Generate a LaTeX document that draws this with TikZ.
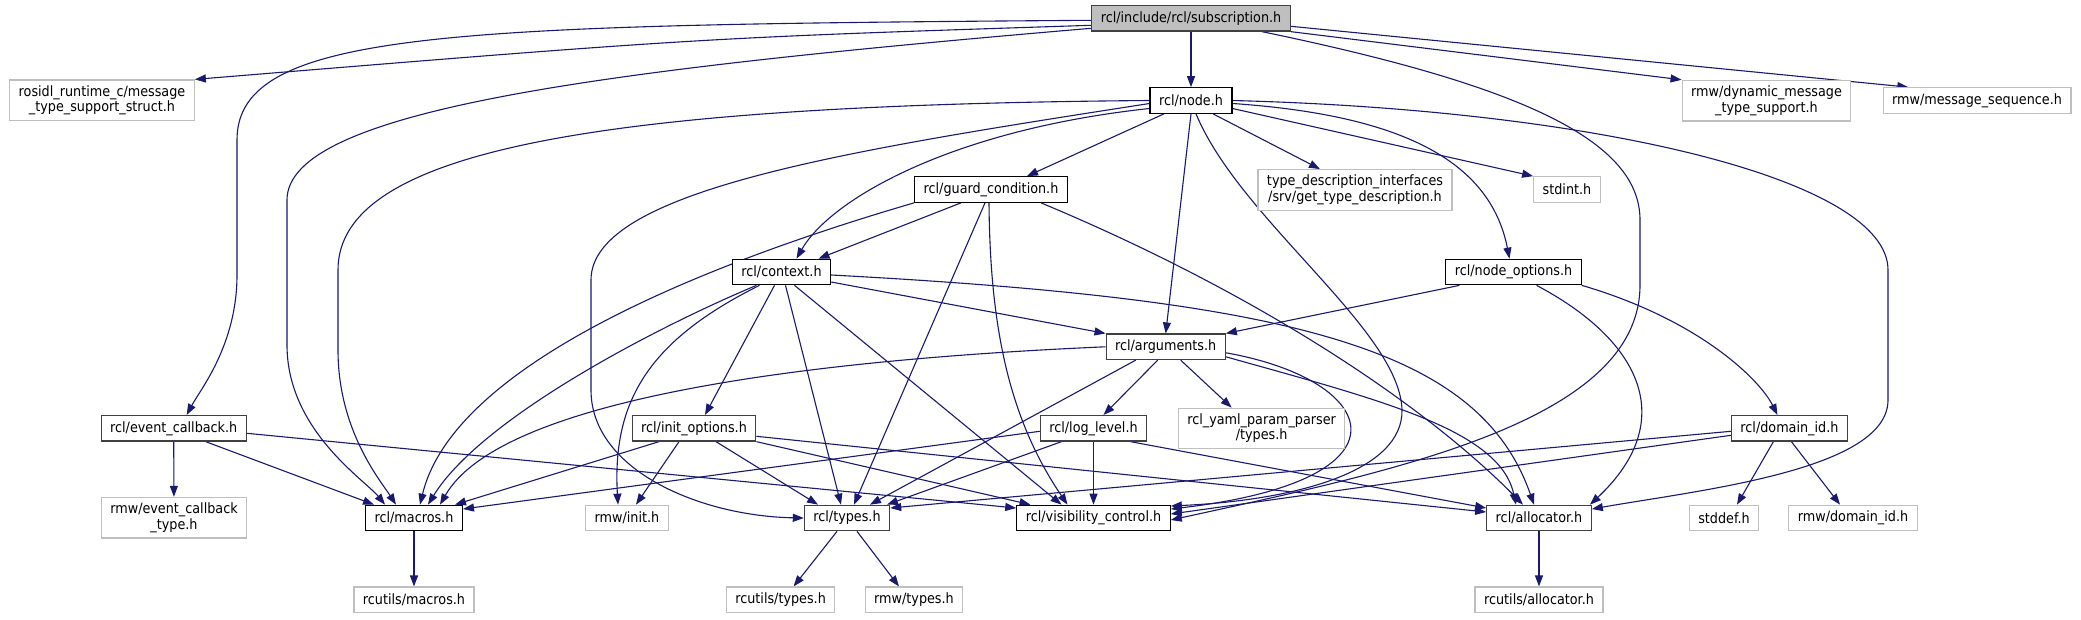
\documentclass[tikz,border=0pt]{standalone}
\usepackage{fontspec}
\setmainfont{DejaVu Sans}[FakeStretch=0.9]
\usetikzlibrary{arrows.meta,backgrounds}
\definecolor{edgecol}{RGB}{25,25,112}
\definecolor{extcol}{RGB}{191,191,191}
\definecolor{rootfill}{RGB}{191,191,191}
\definecolor{grey25}{RGB}{64,64,64}
\tikzset{
  box/.style ={rectangle,draw,line width=1.2pt,minimum height=25.5pt,inner xsep=9pt,inner ysep=5.5pt,align=center,font=\fontsize{14.2}{15.5}\selectfont},
  root/.style={box,draw=grey25,fill=rootfill},
  inc/.style ={box,draw=black,fill=white},
  incg/.style={box,draw=grey25,fill=white},
  ext/.style ={box,draw=extcol,fill=white},
  dep/.style ={edgecol,line width=1.1pt,-{Triangle[length=11pt,width=8pt]}},
}
\begin{document}
\begin{tikzpicture}[x=1pt,y=-1pt]
  \path[use as bounding box] (0,0) rectangle (2081,619);
  % row 0
  \node[root] (sub) at (1191,18.3) {rcl/include/rcl/subscription.h};
  % row 1
  \node[ext] (rosidl) at (102,100.3) {rosidl\_runtime\_c/message\\\_type\_support\_struct.h};
  \node[inc] (node) at (1191,100.5) {rcl/node.h};
  \node[ext] (dyn) at (1766.5,100.7) {rmw/dynamic\_message\\\_type\_support.h};
  \node[ext] (seq) at (1977,100.5) {rmw/message\_sequence.h};
  % row 2
  \node[inc] (guard) at (991,189.5) {rcl/guard\_condition.h};
  \node[ext] (tdi) at (1355,190) {type\_description\_interfaces\\/srv/get\_type\_description.h};
  \node[ext] (stdint) at (1567,189.5) {stdint.h};
  % row 3
  \node[inc] (context) at (781.5,272) {rcl/context.h};
  \node[inc] (nodeopt) at (1513.5,272) {rcl/node\_options.h};
  % row 4
  \node[incg] (args) at (1165.7,346.8) {rcl/arguments.h};
  % row 5
  \node[incg] (evcb) at (173.7,428.3) {rcl/event\_callback.h};
  \node[incg] (initopt) at (694,428.3) {rcl/init\_options.h};
  \node[incg] (loglvl) at (1093.5,428.3) {rcl/log\_level.h};
  \node[ext] (yaml) at (1261.6,428.3) {rcl\_yaml\_param\_parser\\/types.h};
  \node[incg] (domid) at (1789.4,428.3) {rcl/domain\_id.h};
  % row 6
  \node[ext] (evtype) at (174,517.7) {rmw/event\_callback\\\_type.h};
  \node[inc] (macros) at (414,518) {rcl/macros.h};
  \node[ext] (rmwinit) at (627,518) {rmw/init.h};
  \node[incg] (types) at (847,518) {rcl/types.h};
  \node[inc] (vis) at (1093.5,518) {rcl/visibility\_control.h};
  \node[incg] (alloc) at (1539,518) {rcl/allocator.h};
  \node[ext] (stddef) at (1724,518) {stddef.h};
  \node[ext] (rmwdom) at (1853,518) {rmw/domain\_id.h};
  % row 7
  \node[ext] (rcmacros) at (414,599.8) {rcutils/macros.h};
  \node[ext] (rctypes) at (780.6,599.8) {rcutils/types.h};
  \node[ext] (rmwtypes) at (914,599.8) {rmw/types.h};
  \node[ext] (rcalloc) at (1539,599.8) {rcutils/allocator.h};

  \begin{scope}[on background layer]
  \fill[white] (0,0) rectangle (2081,619);
  % from subscription.h
  \draw[dep] ([yshift=-7pt]sub.west) .. controls (700,38) .. (rosidl.north east);
  \draw[dep] ([yshift=-2pt]sub.west) .. controls (450,25) and (237,30) .. (237,140) -- (237,275) .. controls (237,345) and (200,390) .. ([xshift=13pt]evcb.north);
  \draw[dep] ([yshift=-10pt]sub.west) .. controls (600,70) and (287,110) .. (287,200) -- (287,345) .. controls (287,430) and (365,480) .. ([xshift=-29pt]macros.north);
  \draw[dep] (sub) -- (node);
  \draw[dep] ([xshift=71pt]sub.south) .. controls (1520,85) and (1640,140) .. (1640,220) -- (1640,285) .. controls (1640,420) and (1400,470) .. ([yshift=-2pt]vis.east);
  \draw[dep] (sub.south east) -- (dyn.north west);
  \draw[dep] ([yshift=-8pt]sub.east) -- (seq.169);
  % from node.h
  \draw[dep] (node.west) .. controls (600,105) and (338,150) .. (338,270) -- (338,350) .. controls (338,430) and (380,480) .. ([xshift=-18pt]macros.north);
  \draw[dep] ([yshift=-3pt]node.west) .. controls (850,150) and (591,190) .. (591,280) -- (591,390) .. controls (591,470) and (700,516) .. (types.west);
  \draw[dep] ([yshift=-8pt]node.west) .. controls (950,130) and (830,200) .. ([xshift=15pt]context.north);
  \draw[dep] ([xshift=-27pt]node.south) -- ([xshift=36pt]guard.north);
  \draw[dep] (node.south) -- (args.north);
  \draw[dep] ([xshift=5pt]node.south) .. controls (1240,220) and (1400,330) .. (1402,410) .. controls (1403,470) and (1300,500) .. ([yshift=12pt]vis.east);
  \draw[dep] ([xshift=22pt]node.south) -- ([xshift=-35pt]tdi.north);
  \draw[dep] ([yshift=-8pt]node.east) -- (stdint.north west);
  \draw[dep] ([yshift=-3pt]node.east) .. controls (1400,115) and (1490,160) .. ([xshift=-4pt]nodeopt.north);
  \draw[dep] (node.east) .. controls (1600,110) and (1888,180) .. (1888,270) -- (1888,400) .. controls (1888,470) and (1700,490) .. ([yshift=9pt]alloc.east);
  % from guard_condition.h
  \draw[dep] (guard.south west) .. controls (650,280) and (450,380) .. ([xshift=6pt]macros.north);
  \draw[dep] ([xshift=-30pt]guard.south) -- ([xshift=37pt]context.north);
  \draw[dep] ([xshift=-6pt]guard.south) -- ([xshift=7pt]types.north);
  \draw[dep] ([xshift=-2pt]guard.south) .. controls (990,330) and (1010,420) .. ([xshift=-26pt]vis.north);
  \draw[dep] ([xshift=50pt]guard.south) .. controls (1250,290) and (1420,400) .. ([xshift=-16pt]alloc.north);
  % from context.h
  \draw[dep] ([xshift=-25pt]context.south) .. controls (650,330) and (480,420) .. ([xshift=14pt]macros.north);
  \draw[dep] ([xshift=-22pt]context.south) .. controls (650,340) and (612,400) .. ([xshift=-9pt]rmwinit.north);
  \draw[dep] ([xshift=-7pt]context.south) -- ([xshift=11pt]initopt.north);
  \draw[dep] ([xshift=4pt]context.south) -- ([xshift=-6pt]types.north);
  \draw[dep] ([xshift=13pt]context.south) -- ([xshift=-32pt]vis.north);
  \draw[dep] ([yshift=-10pt]context.east) -- (args.north west);
  \draw[dep] ([yshift=-3pt]context.east) .. controls (1300,300) and (1480,350) .. ([xshift=-5pt]alloc.north);
  % from arguments.h
  \draw[dep] (args.west) .. controls (800,360) and (500,400) .. ([xshift=26pt]macros.north);
  \draw[dep] ([xshift=-30pt]args.south) -- ([xshift=23pt]types.north);
  \draw[dep] ([xshift=-8pt]args.south) -- ([xshift=10pt]loglvl.north);
  \draw[dep] ([xshift=15pt]args.south) -- ([xshift=-30pt]yaml.north);
  \draw[dep] ([yshift=-6pt]args.east) .. controls (1380,380) and (1420,480) .. ([yshift=9pt]vis.east);
  \draw[dep] ([yshift=-10pt]args.east) .. controls (1380,400) and (1500,430) .. ([xshift=-23pt]alloc.north);
  % from init_options.h
  \draw[dep] ([xshift=-35pt]initopt.south) -- ([xshift=-8pt]macros.north east);
  \draw[dep] ([xshift=-15pt]initopt.south) -- ([xshift=9pt]rmwinit.north);
  \draw[dep] ([xshift=22pt]initopt.south) -- ([xshift=-29pt]types.north);
  \draw[dep] (initopt.south east) -- ([xshift=-63pt]vis.north);
  \draw[dep] ([yshift=-8pt]initopt.east) -- ([yshift=6pt]alloc.west);
  % from log_level.h
  \draw[dep] ([yshift=-3pt]loglvl.west) -- ([yshift=9pt]macros.east);
  \draw[dep] ([xshift=-32pt]loglvl.south) -- ([xshift=40pt]types.north);
  \draw[dep] (loglvl.south) -- (vis.north);
  \draw[dep] ([xshift=37pt]loglvl.south) -- ([yshift=10pt]alloc.west);
  % from event_callback.h
  \draw[dep] (evcb) -- (evtype);
  \draw[dep] ([xshift=32pt]evcb.south) -- ([xshift=-40pt]macros.north);
  \draw[dep] ([yshift=-5pt]evcb.east) -- ([yshift=10pt]vis.west);
  % from domain_id.h
  \draw[dep] ([xshift=-16pt]domid.south) -- ([xshift=13pt]stddef.north);
  \draw[dep] ([xshift=2pt]domid.south) -- ([xshift=-13pt]rmwdom.north);
  \draw[dep] ([yshift=-3pt]domid.west) -- ([yshift=10pt]types.east);
  \draw[dep] ([yshift=-7pt]domid.west) -- ([yshift=4pt]vis.east);
  % from node_options.h
  \draw[dep] ([xshift=-54pt]nodeopt.south) -- (args.north east);
  \draw[dep] ([xshift=23pt]nodeopt.south) .. controls (1640,340) and (1680,420) .. ([xshift=51pt]alloc.north);
  \draw[dep] (nodeopt.south east) .. controls (1700,320) and (1760,380) .. ([xshift=-12pt]domid.north);
  % leaves
  \draw[dep] ([xshift=-10pt]types.south) -- ([xshift=13pt]rctypes.north);
  \draw[dep] ([xshift=10pt]types.south) -- ([xshift=-15pt]rmwtypes.north);
  \draw[dep] (macros) -- (rcmacros);
  \draw[dep] (alloc) -- (rcalloc);
  \end{scope}
\end{tikzpicture}
\end{document}
